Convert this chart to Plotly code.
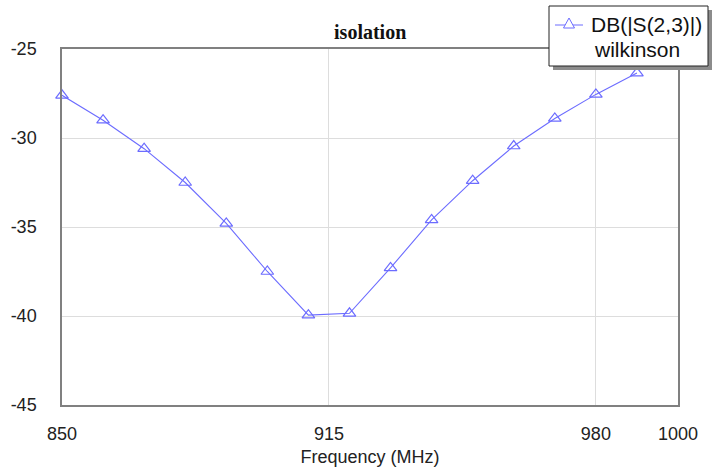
import plotly.graph_objects as go

# S(2,3) isolation of the Wilkinson divider, in dB
freq_mhz = [850, 860, 870, 880, 890, 900, 910, 920, 930, 940, 950, 960, 970, 980, 990]
isolation_db = [-27.6, -29.0, -30.6, -32.5, -34.8, -37.5, -39.95, -39.85, -37.3,
                -34.6, -32.4, -30.45, -28.9, -27.55, -26.35]

x_ticks = [850, 915, 980, 1000]
y_ticks = [-25, -30, -35, -40, -45]

series_name = "DB(|S(2,3)|)"
source_name = "wilkinson"

line_color = "#6c6cff"
sans = "Liberation Sans, Arial"

# plot-area geometry in pixels (figure is 716 x 468)
W, H = 716, 468
L, R, T, B = 62, 38, 49, 63
pw, ph = W - L - R, H - T - B


def px(xp):
    return (xp - L) / pw


def py(yp):
    return (H - B - yp) / ph


fig = go.Figure()
fig.add_trace(go.Scatter(
    x=freq_mhz, y=isolation_db,
    mode="lines+markers",
    name=series_name,
    showlegend=False,
    line=dict(color=line_color, width=1.1),
    marker=dict(symbol="triangle-up-open", size=11, color=line_color,
                line=dict(width=1.2, color=line_color)),
    cliponaxis=False,
))

axis_common = dict(
    showline=True, mirror=True, linecolor="#808080", linewidth=1.5,
    showgrid=True, gridcolor="#dddddd", gridwidth=1,
    zeroline=False, ticks="", automargin=False,
    tickfont=dict(family=sans, size=18, color="#222222"),
)

# legend box drawn by hand: drop shadow, framed white panel, line + triangle sample
lx0, ly0, lx1, ly1 = 549, 6, 708, 66
tri_cx, tri_cy, tri_r = 569, 24, 5.5
shapes = [
    dict(type="rect", xref="paper", yref="paper",
         x0=px(lx0 + 4), x1=px(lx1 + 4), y0=py(ly1 + 4), y1=py(ly0 + 4),
         fillcolor="#8c8c8c", line=dict(width=0), layer="above"),
    dict(type="rect", xref="paper", yref="paper",
         x0=px(lx0), x1=px(lx1), y0=py(ly1), y1=py(ly0),
         fillcolor="white", line=dict(color="#222222", width=1), layer="above"),
    dict(type="line", xref="paper", yref="paper",
         x0=px(555), x1=px(583), y0=py(25), y1=py(25),
         line=dict(color=line_color, width=1), layer="above"),
    dict(type="path", xref="paper", yref="paper",
         path=(f"M {px(tri_cx - tri_r)} {py(tri_cy + 4)} "
               f"L {px(tri_cx + tri_r)} {py(tri_cy + 4)} "
               f"L {px(tri_cx)} {py(tri_cy - 6)} Z"),
         fillcolor="white", line=dict(color=line_color, width=1), layer="above"),
]

annotations = [
    dict(text=series_name, xref="paper", yref="paper", x=px(589), y=py(24),
         xanchor="left", yanchor="middle", showarrow=False,
         font=dict(family=sans, size=21, color="#111111")),
    dict(text=source_name, xref="paper", yref="paper", x=px(592), y=py(50),
         xanchor="left", yanchor="middle", showarrow=False,
         font=dict(family=sans, size=21, color="#111111")),
]

fig.update_layout(
    width=W, height=H,
    margin=dict(l=L, r=R, t=T, b=B),
    paper_bgcolor="white", plot_bgcolor="white",
    title=dict(text="<b>isolation</b>", x=0.517, xanchor="center", y=(H - 32) / H, yanchor="middle",
               font=dict(family="Liberation Serif, Times New Roman", size=20, color="#111111")),
    xaxis=dict(range=[850, 1000], tickvals=x_ticks, ticktext=[str(v) for v in x_ticks],
               ticklabelstandoff=12,
               title=dict(text="Frequency (MHz)", standoff=7,
                          font=dict(family=sans, size=18, color="#222222")),
               **axis_common),
    yaxis=dict(range=[-45, -25], tickvals=y_ticks, ticktext=[str(v) for v in y_ticks],
               ticklabelstandoff=20, **axis_common),
    showlegend=False,
    shapes=shapes,
    annotations=annotations,
)

fig.write_html("out.html")
